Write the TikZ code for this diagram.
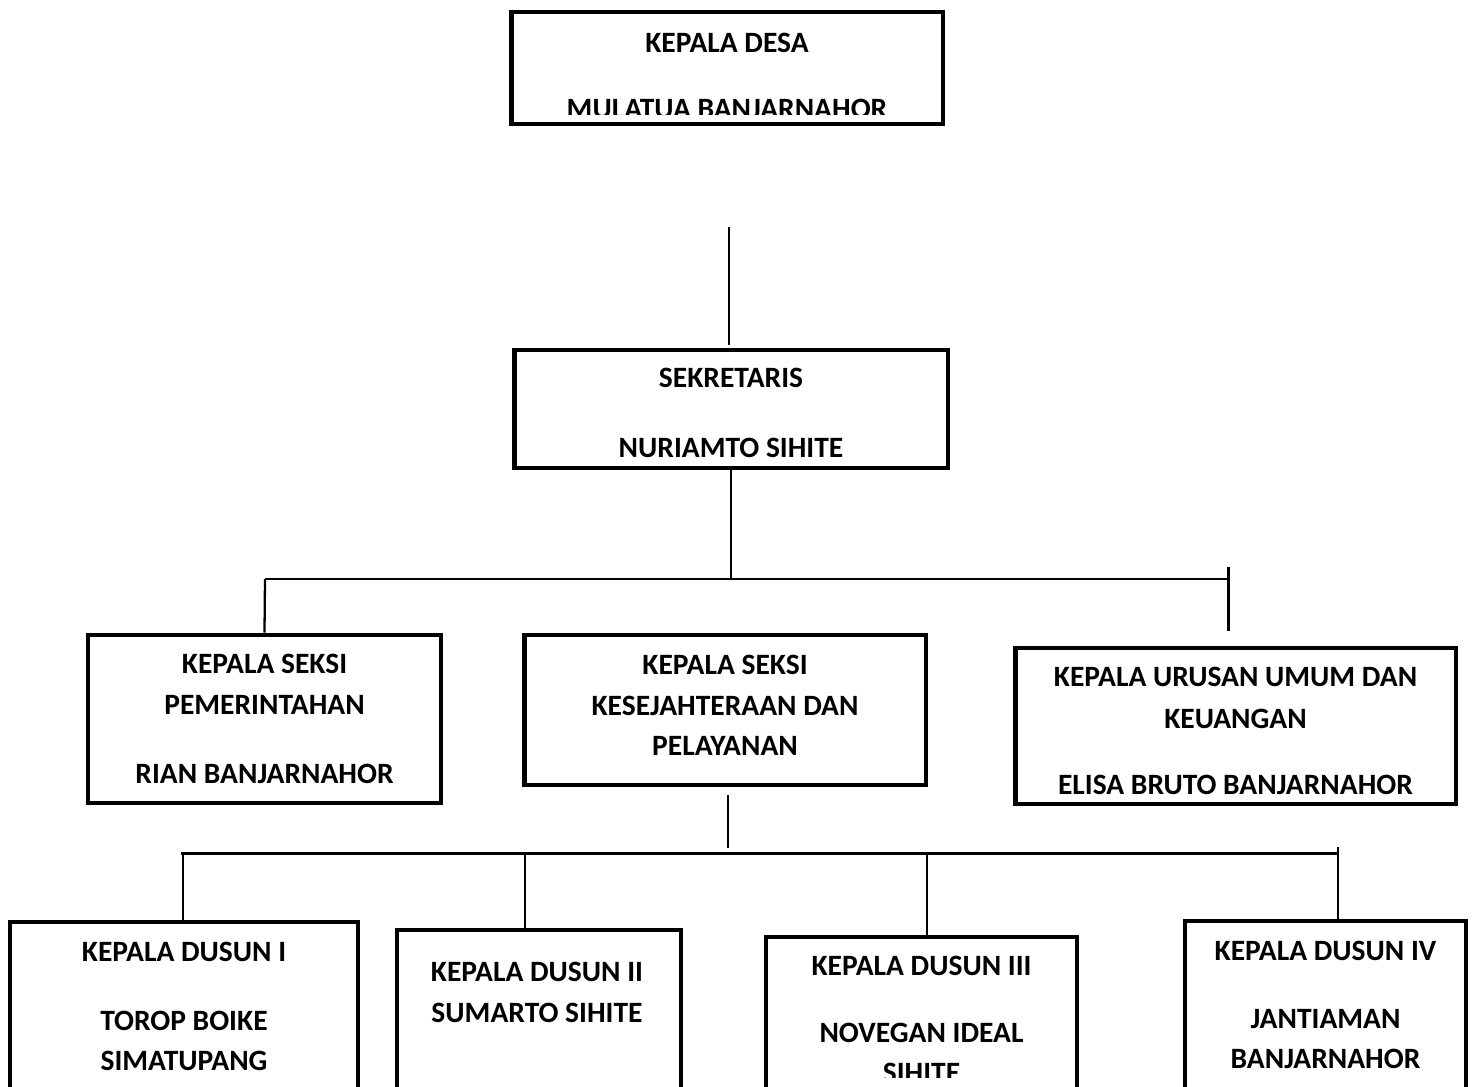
\documentclass[tikz,border=0pt]{standalone}
\usepackage{fontspec}
\setmainfont{Carlito}
\tikzset{
    jabatan/.style={draw,line width=2.8pt,minimum width=#1,inner sep=0pt},
    nama/.style={inner sep=0pt,anchor=center,font=\fontsize{16.8}{20}\selectfont\bfseries},
    garis/.style={line width=1.1pt},
    tebal/.style={line width=1.7pt}
}
\begin{document}
\begin{tikzpicture}[x=0.02cm,y=-0.02cm]
    \useasboundingbox (0,0) rectangle (1475,1086);
    \clip (0,0) rectangle (1475,1086);
    % kotak jabatan
    \node[jabatan=8.64cm,minimum height=2.24cm] (kades) at (727,68) {};
    \node[jabatan=8.68cm,minimum height=2.36cm] (sek) at (731,409) {};
    \node[jabatan=7.06cm,minimum height=3.36cm] (pem) at (264.5,719) {};
    \node[jabatan=8.04cm,minimum height=3.0cm] (kes) at (725,710) {};
    \node[jabatan=8.82cm,minimum height=3.12cm] (uru) at (1235.5,726) {};
    \node[jabatan=6.96cm,minimum height=3.76cm] (dsn1) at (184,1016) {};
    \node[jabatan=5.68cm,minimum height=3.6cm] (dsn2) at (539,1020) {};
    \node[jabatan=6.22cm,minimum height=3.46cm] (dsn3) at (921.5,1023.5) {};
    \node[jabatan=5.62cm,minimum height=3.78cm] (dsn4) at (1325.5,1015.5) {};
    % tulisan
    \node[nama] (kadesA) at (727,43) {KEPALA DESA};
    \begin{scope}
        \clip (511,12) rectangle (943,114);
        \node[nama] (kadesB) at (727,109) {MULATUA BANJARNAHOR};
    \end{scope}
    \node[nama] (sekA) at (731,378) {SEKRETARIS};
    \node[nama] (sekB) at (731,448) {NURIAMTO SIHITE};
    \node[nama] (pemA) at (264.5,664) {KEPALA SEKSI};
    \node[nama] (pemB) at (264.5,705) {PEMERINTAHAN};
    \node[nama] (pemC) at (264.5,774) {RIAN BANJARNAHOR};
    \node[nama] (kesA) at (725,665) {KEPALA SEKSI};
    \node[nama] (kesB) at (725,706) {KESEJAHTERAAN DAN};
    \node[nama] (kesC) at (725,746) {PELAYANAN};
    \node[nama] (uruA) at (1235.5,677) {KEPALA URUSAN UMUM DAN};
    \node[nama] (uruB) at (1235.5,719) {KEUANGAN};
    \node[nama] (uruC) at (1235.5,785) {ELISA BRUTO BANJARNAHOR};
    \node[nama] (dsn1A) at (184,952) {KEPALA DUSUN I};
    \node[nama] (dsn1B) at (184,1021) {TOROP BOIKE};
    \node[nama] (dsn1C) at (184,1061) {SIMATUPANG};
    \node[nama] (dsn2A) at (537,972) {KEPALA DUSUN II};
    \node[nama] (dsn2B) at (537,1013) {SUMARTO SIHITE};
    \node[nama] (dsn3A) at (921.5,966) {KEPALA DUSUN III};
    \node[nama] (dsn3B) at (921.5,1033) {NOVEGAN IDEAL};
    \begin{scope}
        \clip (766,937) rectangle (1077,1077);
        \node[nama] (dsn3C) at (921.5,1073) {SIHITE};
    \end{scope}
    \node[nama] (dsn4A) at (1325.5,951) {KEPALA DUSUN IV};
    \node[nama] (dsn4B) at (1325.5,1019) {JANTIAMAN};
    \node[nama] (dsn4C) at (1325.5,1059) {BANJARNAHOR};
    % garis
    \coordinate (a1) at (729,227);
    \coordinate (a2) at (729,345);
    \draw[garis] (a1) -- (a2);
    \coordinate (busL) at (265,579);
    \coordinate (busR) at (1229,579);
    \coordinate (uruT) at (1228,567);
    \coordinate (uruB) at (1228,631);
    \draw[garis] (sek.south) -- (sek.south |- busL);
    \draw[garis] (busL) -- (busR);
    \draw[line width=1.3pt] (busL) -- (pem.north);
    \draw[tebal] (uruT) -- (uruB);
    \coordinate (k1) at (728,795);
    \coordinate (k2) at (728,848);
    \draw[garis] (k1) -- (k2);
    \coordinate (bus2L) at (181,853);
    \coordinate (bus2R) at (1339,853);
    \draw[tebal] (bus2L) -- (bus2R);
    \foreach \t/\d in {183/dsn1,525/dsn2,927/dsn3} {
        \coordinate (tap) at (\t,853);
        \draw[garis] (tap) -- (tap |- \d.north);
      }
    \coordinate (tap4) at (1338,847);
    \draw[garis] (tap4) -- (tap4 |- dsn4.north);
\end{tikzpicture}
\end{document}
